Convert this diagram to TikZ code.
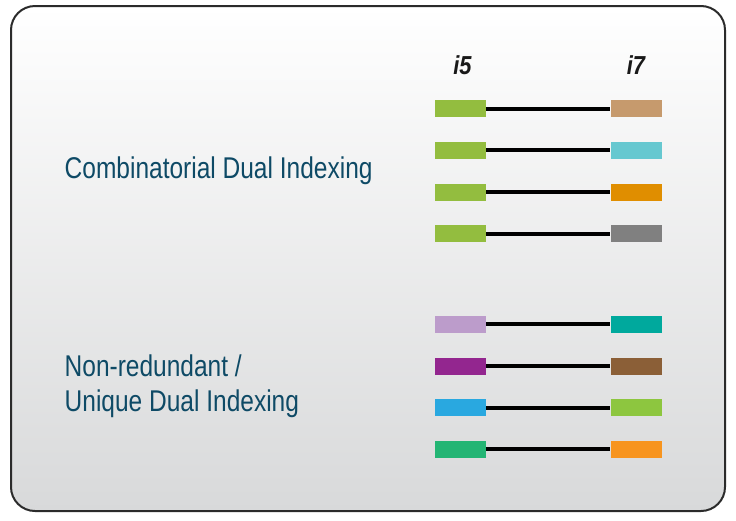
\documentclass[tikz,border=0pt]{standalone}
\usepackage{fontspec}
\setmainfont{Liberation Sans}
\definecolor{txt}{HTML}{0E4A66}
\definecolor{bgtop}{HTML}{FFFFFF}
\definecolor{bgbot}{HTML}{D8D9DA}
\definecolor{frame}{HTML}{2B2B2B}
\definecolor{cA}{HTML}{93BD3F}
\definecolor{cB}{HTML}{C69A6D}
\definecolor{cC}{HTML}{66C8D0}
\definecolor{cD}{HTML}{E08E00}
\definecolor{cE}{HTML}{808080}
\definecolor{cF}{HTML}{BC9CCB}
\definecolor{cG}{HTML}{93268F}
\definecolor{cH}{HTML}{29A8E0}
\definecolor{cI}{HTML}{23B574}
\definecolor{cJ}{HTML}{00A99D}
\definecolor{cK}{HTML}{8B5F37}
\definecolor{cL}{HTML}{8DC63F}
\definecolor{cM}{HTML}{F7941E}
\newcommand{\narrowtxt}[2]{\scalebox{#1}[1]{#2}}
\tikzset{
  bar/.style={rectangle, inner sep=0pt, minimum width=51pt, minimum height=17pt, fill=#1, draw=none},
  link/.style={line width=4pt, black},
  label/.style={inner sep=0pt, anchor=base west, text=txt, font=\fontsize{30}{36}\selectfont},
  head/.style={inner sep=0pt, anchor=base, text=black!90, font=\fontsize{26}{30}\selectfont\bfseries\itshape}
}
\begin{document}
\begin{tikzpicture}[x=1pt,y=-1pt]
\useasboundingbox (0,0) rectangle (736,520);
\shade[top color=bgtop, bottom color=bgbot, rounded corners=24pt] (11,6) rectangle (725,511);
\draw[frame, line width=2pt, rounded corners=24pt] (11,6) rectangle (725,511);
\node[head] (h5) at (462.5,74.3) {\narrowtxt{0.84}{i5}};
\node[head] (h7) at (636,74.3) {\narrowtxt{0.84}{i7}};
\node[label] (t1) at (64.5,178.5) {\narrowtxt{0.817}{Combinatorial Dual Indexing}};
\node[label] (t2) at (64.5,376.7) {\narrowtxt{0.817}{Non-redundant /}};
\node[label] (t3) at (64.5,411.7) {\narrowtxt{0.817}{Unique Dual Indexing}};
\foreach \i/\y/\cl/\cr in {1/108.5/cA/cB, 2/150.3/cA/cC, 3/192/cA/cD, 4/233.7/cA/cE, 5/324.3/cF/cJ, 6/366/cG/cK, 7/407.7/cH/cL, 8/449.3/cI/cM}{
  \node[bar=\cl] (L\i) at (460.5,\y) {};
  \node[bar=\cr] (R\i) at (636,\y) {};
  \draw[link] (L\i.east) -- (R\i.west);
}
\end{tikzpicture}
\end{document}
